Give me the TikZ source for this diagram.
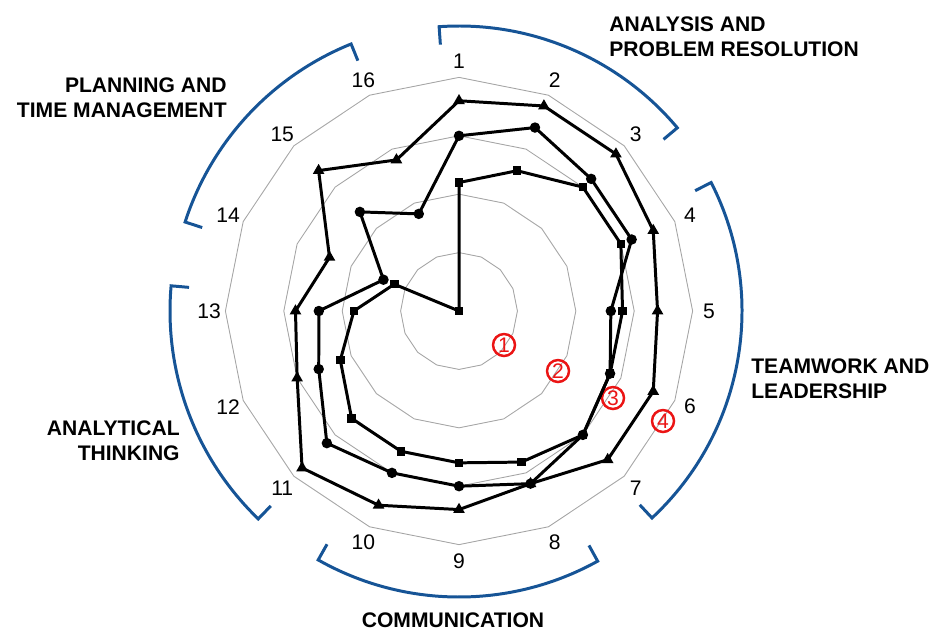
\documentclass[tikz,border=0pt]{standalone}
\usepackage{fontspec}
\setmainfont{Liberation Sans}
\usetikzlibrary{shapes.geometric}
\definecolor{bracketblue}{RGB}{22,84,150}
\definecolor{markred}{RGB}{235,20,20}
\definecolor{ringgray}{RGB}{165,165,165}

\begin{document}
\begin{tikzpicture}[
    x=0.02cm, y=0.02cm,
    ring/.style={draw=ringgray, line width=0.5pt},
    series/.style={draw=black, line width=1.7pt, line join=round},
    tri/.style={regular polygon, regular polygon sides=3, fill=black, inner sep=0pt, minimum size=0.27cm},
    dot/.style={circle, fill=black, inner sep=0pt, minimum size=0.21cm},
    sq/.style={rectangle, fill=black, inner sep=0pt, minimum size=0.17cm},
    axislabel/.style={font=\fontsize{12}{14}\selectfont, inner sep=0pt},
    catlabel/.style={font=\fontsize{12}{14.2}\selectfont\bfseries, inner sep=0pt},
    bracket/.style={draw=bracketblue, line width=1.7pt},
    redmark/.style={circle, draw=markred, text=markred, line width=1.4pt, minimum size=0.44cm, inner sep=0pt, font=\fontsize{12}{12}\selectfont}
]
    \useasboundingbox (0,0) rectangle (932,630);

    \begin{scope}[shift={(459,319)}]
    % Rings
    \foreach \lev in {1,...,4}
        \draw[ring] (90:{\lev*58.4}) \foreach \k in {1,...,15}{ -- ({90-22.5*\k}:{\lev*58.4})} -- cycle;

    % Axis numbers
    \foreach \k in {1,...,16}
        \node[axislabel] (num\k) at ({90-22.5*(\k-1)}:250) {\k};

    % Levels
    \node[redmark] (lev1) at (45,-34) {1};
    \node[redmark] (lev2) at (99,-60) {2};
    \node[redmark] (lev3) at (154,-87) {3};
    \node[redmark] (lev4) at (204,-110) {4};

    % Series
    \foreach \v [count=\k] in {2.2,2.6,3.0,3.0,2.8,2.8,3.0,2.8,2.6,2.6,2.6,2.2,1.8,1.2,0,0}
        \coordinate (s\k) at ({90-22.5*(\k-1)}:{\v*58.4});
    \foreach \v [count=\k] in {3.0,3.4,3.2,3.2,2.6,2.8,3.0,3.2,3.0,3.0,3.2,2.6,2.4,1.4,2.4,1.8}
        \coordinate (c\k) at ({90-22.5*(\k-1)}:{\v*58.4});
    \foreach \v [count=\k] in {3.6,3.8,3.8,3.6,3.4,3.6,3.6,3.2,3.4,3.6,3.8,3.0,2.8,2.4,3.4,2.8}
        \coordinate (t\k) at ({90-22.5*(\k-1)}:{\v*58.4});

    \draw[series] (s1) \foreach \k in {2,...,16}{ -- (s\k)} -- cycle;
    \draw[series] (c1) \foreach \k in {2,...,16}{ -- (c\k)} -- cycle;
    \draw[series] (t1) \foreach \k in {2,...,16}{ -- (t\k)} -- cycle;
    \foreach \k in {1,...,16} {
        \node[sq] (sm\k) at (s\k) {};
        \node[dot] (cm\k) at (c\k) {};
        \node[tri] (tm\k) at (t\k) {};
    }

    % Brackets
    \draw[bracket] (94:267) -- (94:285) arc[start angle=94, end angle=40, radius=285] -- (40:267);
    \draw[bracket] (27:265) -- (27:283) arc[start angle=27, end angle=-47, radius=283] -- (-47:265);
    \draw[bracket] (-61:268) -- (-61:286) arc[start angle=-61, end angle=-119.5, radius=286] -- (-119.5:268);
    \draw[bracket] (226:271) -- (226:289) arc[start angle=226, end angle=175, radius=289] -- (175:271);
    \draw[bracket] (162:270) -- (162:288) arc[start angle=162, end angle=112, radius=288] -- (112:270);
    \end{scope}

    % Labels
    \node[catlabel, anchor=north west, align=left] (analysis) at (609,614) {ANALYSIS AND\\PROBLEM RESOLUTION};
    \node[catlabel, anchor=north west, align=left] (teamwork) at (751,272) {TEAMWORK AND\\LEADERSHIP};
    \node[catlabel, anchor=north] (communication) at (453,18) {COMMUNICATION};
    \node[catlabel, anchor=north east, align=right] (analytical) at (180,210) {ANALYTICAL\\THINKING};
    \node[catlabel, anchor=north east, align=right] (planning) at (227,553) {PLANNING AND\\TIME MANAGEMENT};
\end{tikzpicture}
\end{document}
